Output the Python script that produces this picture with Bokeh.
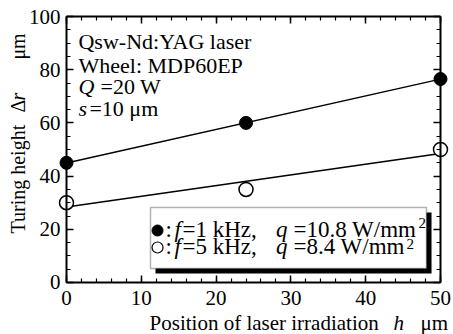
import numpy as np
from bokeh.plotting import figure
from bokeh.models import (Range1d, LinearAxis, SingleIntervalTicker, Label, BoxAnnotation,
                          CustomJSTickFormatter)
from bokeh.embed import file_html
from bokeh.resources import INLINE

# ---- data ----
h_pos = [0, 24, 50]                 # position of laser irradiation h (um)
dr_1khz = [45, 60, 76.5]            # f = 1 kHz, q = 10.8 W/mm2 (filled)
dr_5khz = [30, 35, 50]              # f = 5 kHz, q = 8.4 W/mm2 (open)
x_ticks = [0, 10, 20, 30, 40, 50]
x_tick_labels = ["0", "10", "20", "30", "40", "50"]
y_ticks = [0, 20, 40, 60, 80, 100]
y_tick_labels = ["0", "20", "40", "60", "80", "100"]
x_lim = (0, 50)
y_lim = (0, 100)

FONT = "Liberation Serif"
W, H = 453, 334

# the frame covers the whole canvas so that edge markers and outside texts are not clipped
p = figure(width=W, height=H, output_backend="svg", toolbar_location=None,
           x_range=Range1d(-8.824, 51.738), y_range=Range1d(-19.55, 106.02),
           min_border_left=0, min_border_right=0, min_border_top=0, min_border_bottom=0,
           x_axis_location=None, y_axis_location=None)
p.grid.visible = False
p.outline_line_color = None
p.background_fill_color = "white"
p.border_fill_color = "white"

blank = CustomJSTickFormatter(code="return ''")


def style_axis(ax):
    ax.axis_line_color = "black"
    ax.axis_line_width = 2
    ax.major_tick_line_color = "black"
    ax.major_tick_line_width = 1.5
    ax.minor_tick_line_color = "black"
    ax.minor_tick_line_width = 1.2
    ax.major_tick_in = 7
    ax.major_tick_out = 0
    ax.minor_tick_in = 4
    ax.minor_tick_out = 0
    ax.formatter = blank
    ax.major_label_text_color = None
    ax.major_label_standoff = 0
    ax.axis_label = None


for loc, place in [(y_lim[0], "below"), (y_lim[1], "above")]:
    ax = LinearAxis(ticker=SingleIntervalTicker(interval=10, num_minor_ticks=5),
                    bounds=x_lim, fixed_location=loc)
    style_axis(ax)
    p.add_layout(ax, place)

for loc, place in [(x_lim[0], "left"), (x_lim[1], "right")]:
    ax = LinearAxis(ticker=SingleIntervalTicker(interval=20, num_minor_ticks=4),
                    bounds=y_lim, fixed_location=loc)
    style_axis(ax)
    p.add_layout(ax, place)

# fitted lines
xs = np.array([h_pos[0], h_pos[-1]], dtype=float)
c1 = np.polyfit(h_pos, dr_1khz, 1)
c5 = np.polyfit(h_pos, dr_5khz, 1)
p.line(xs, np.polyval(c1, xs), line_color="black", line_width=1.5)
p.line(xs, np.polyval(c5, xs), line_color="black", line_width=1.5)

p.scatter(h_pos, dr_1khz, marker="circle", size=13, fill_color="black", line_color="black")
p.scatter(h_pos, dr_5khz, marker="circle", size=14, fill_color="white", line_color="black",
          line_width=1.5)


def lab(x, y, text, size="20px", style="normal", angle=0, align="left"):
    p.add_layout(Label(x=x, y=y, text=text, text_font=FONT, text_font_size=size,
                       text_font_style=style, text_color="black", angle=angle,
                       text_baseline="middle", text_align=align))


# tick labels
for xv, t in zip(x_ticks, x_tick_labels):
    lab(xv, -5.83, t, size="21px", align="center")
for yv, t in zip(y_ticks, y_tick_labels):
    lab(-0.8, yv, t, size="21px", align="right")

# condition annotation
AS = "22px"
lab(1.6, 90.5, "Qsw-Nd:YAG laser", size=AS)
lab(1.6, 81.7, "Wheel: MDP60EP", size=AS)
lab(1.6, 73.7, "Q", style="italic", size=AS)
lab(4.55, 73.7, "=20 W", size=AS)
lab(1.6, 65.4, "s", style="italic", size=AS)
lab(3.07, 65.4, "=10 μm", size=AS)

# legend box with shadow
p.add_layout(BoxAnnotation(left=11.9, right=48.8, top=26.3, bottom=3.38,
                           fill_color="black", fill_alpha=1, line_color=None))
p.add_layout(BoxAnnotation(left=11.23, right=48.13, top=28.2, bottom=5.26,
                           fill_color="white", fill_alpha=1, line_color="black", line_width=1.5))

p.scatter([12.17], [19.55], marker="circle", size=11, fill_color="black", line_color="black",
          level="overlay")
p.scatter([12.17], [13.16], marker="circle", size=11, fill_color="white", line_color="black",
          line_width=1.2, level="overlay")

LS = "23px"
for yb, fval, qval in [(19.9, "=1 kHz,", "=10.8 W/mm"), (13.7, "=5 kHz,", "=8.4 W/mm")]:
    lab(13.24, yb, ":", size=LS)
    lab(14.44, yb, "f", size=LS, style="italic")
    lab(15.51, yb, fval, size=LS)
    lab(28.0, yb, "q", size=LS, style="italic")
    lab(30.35, yb, qval, size=LS)
lab(47.06, 22.3, "2", size="15px")
lab(45.45, 14.5, "2", size="15px")

# axis titles
XS = "21px"
lab(11.1, -15.04, "Position of laser irradiation", size=XS)
lab(43.72, -15.04, "h", style="italic", size=XS)
lab(47.33, -15.04, "μm", size=XS)

ang = np.pi / 2
lab(-6.42, 18.42, "Turing height", angle=ang)
lab(-6.42, 63.9, "Δ", angle=ang)
lab(-6.42, 68.4, "r", style="italic", angle=ang)
lab(-6.42, 83.8, "μm", angle=ang)

open("out.html", "w").write(file_html(p, INLINE))
